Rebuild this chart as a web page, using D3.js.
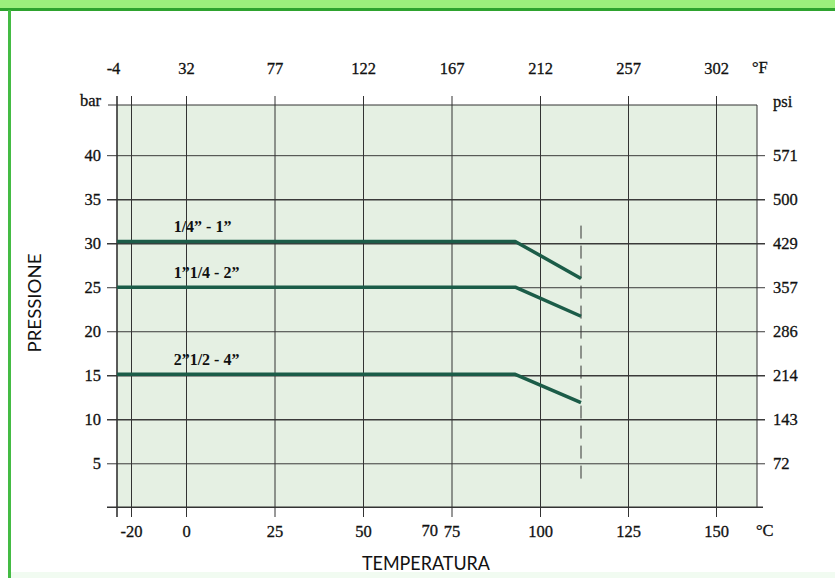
<!DOCTYPE html>
<html>
<head>
<meta charset="utf-8">
<script src="https://cdn.jsdelivr.net/npm/d3@7"></script>
<style>
body{margin:0;background:#fff;}
svg{display:block;}
.tick text, .lbl{font-family:"Liberation Serif",serif;font-size:16.5px;fill:#111;stroke:#111;stroke-width:0.3px;}
</style>
</head>
<body>
<svg id="chart" width="835" height="578"></svg>
<script>
// pressure / temperature data
var barTicks = [5, 10, 15, 20, 25, 30, 35, 40];
var psiLabels = ["72", "143", "214", "286", "357", "429", "500", "571"];
var celsiusTicks = [-20, 0, 25, 50, 75, 100, 125, 150];
var fahrenheitLabels = ["-4", "32", "77", "122", "167", "212", "257", "302"];
var fahrenheitPos = [-25, 0, 25, 50, 75, 100, 125, 150];

var seriesNames = ["1/4\u201d - 1\u201d", "1\u201d1/4 - 2\u201d", "2\u201d1/2 - 4\u201d"];
var seriesTemp = [-25, 93, 110];
var seriesA = [30.2, 30.2, 26.0];
var seriesB = [25.0, 25.0, 21.7];
var seriesC = [15.1, 15.1, 11.9];
var maxTemp = 110;

var svg = d3.select("#chart");

// frame
svg.append("rect").attr("x",0).attr("y",0).attr("width",835).attr("height",8).attr("fill","#9cf07c");
svg.append("line").attr("x1",0).attr("x2",835).attr("y1",9.5).attr("y2",9.5).attr("stroke","#2ea32e").attr("stroke-width",3);
svg.append("line").attr("x1",9.5).attr("x2",9.5).attr("y1",10).attr("y2",578).attr("stroke","#44bb44").attr("stroke-width",3);
svg.append("rect").attr("x",11).attr("y",572).attr("width",824).attr("height",6).attr("fill","#f1fbf1");

// scales (the temperature axis of the original is not uniform)
var x = d3.scaleLinear()
    .domain([-25, -20, 0, 100, 110, 125, 150, 161.5])
    .range([117, 131, 186, 540, 581, 628, 716, 757]);
var y = d3.scaleLinear().domain([0, 45.7]).range([507.3, 105]);

var pLeft = 117, pRight = 757, pTop = 105, pBottom = 507.3;

svg.append("rect").attr("x",pLeft).attr("y",pTop).attr("width",pRight-pLeft).attr("height",pBottom-pTop).attr("fill","#e5f0e3");

// horizontal grid + bar labels
var gy = svg.append("g").attr("transform","translate(107,0)")
    .call(d3.axisLeft(y).tickValues(barTicks).tickSize(-(765-107)).tickPadding(6));
gy.select(".domain").remove();
gy.selectAll(".tick line").attr("stroke","#3a3a3a").attr("stroke-width",function(d){return (d==10||d==35||d==15||d==30)?1.6:1;});

// psi labels
var gp = svg.append("g").attr("transform","translate(765,0)")
    .call(d3.axisRight(y).tickValues(barTicks).tickSize(0).tickPadding(8)
    .tickFormat(function(d,i){return psiLabels[i];}));
gp.select(".domain").remove();

// vertical grid + celsius labels
var gx = svg.append("g").attr("transform","translate(0,517)")
    .call(d3.axisBottom(x).tickValues(celsiusTicks).tickSize(-(517-96)).tickPadding(5)
    .tickFormat(function(d){return String(d);}));
gx.select(".domain").remove();
gx.selectAll(".tick line").attr("stroke","#333").attr("stroke-width",1);
gx.selectAll(".tick text").attr("dy","0.9em");

// extra 70 label
svg.append("text").attr("class","lbl").attr("x",x(70)-4).attr("y",536).attr("text-anchor","middle").text("70");

// fahrenheit labels
var gf = svg.append("g").attr("transform","translate(0,96)")
    .call(d3.axisTop(x).tickValues(fahrenheitPos).tickSize(0).tickPadding(22)
    .tickFormat(function(d,i){return fahrenheitLabels[i];}));
gf.select(".domain").remove();
gf.selectAll(".tick text").filter(function(d){return d==-25;}).attr("dx",-4);

// plot edges and axes
svg.append("line").attr("x1",108).attr("x2",pRight).attr("y1",pTop).attr("y2",pTop).attr("stroke","#333");
svg.append("line").attr("x1",pRight).attr("x2",pRight).attr("y1",pTop).attr("y2",pBottom).attr("stroke","#333");
svg.append("line").attr("x1",pLeft).attr("x2",pLeft).attr("y1",96).attr("y2",517).attr("stroke","#333").attr("stroke-width",1.6);
svg.append("line").attr("x1",107).attr("x2",763).attr("y1",pBottom).attr("y2",pBottom).attr("stroke","#333").attr("stroke-width",1.6);

// max temperature dashed line
svg.append("line").attr("x1",x(maxTemp)).attr("x2",x(maxTemp)).attr("y1",y(32)).attr("y2",y(3.2))
    .attr("stroke","#333").attr("stroke-width",1).attr("stroke-dasharray","13,7");

// unit labels
function label(txt, px, py, anchor){
  svg.append("text").attr("class","lbl").attr("x",px).attr("y",py).attr("text-anchor",anchor||"start").text(txt);
}
label("bar", 101, 106, "end");
label("psi", 773, 107);
label("\u00b0F", 752, 73);
label("\u00b0C", 756, 536);

// series
var line = d3.line().x(function(d){return x(d[0]);}).y(function(d){return y(d[1]);});
[seriesA, seriesB, seriesC].forEach(function(s, i){
  var pts = seriesTemp.map(function(t, j){return [t, s[j]];});
  svg.append("path").attr("d", line(pts)).attr("fill","none")
    .attr("stroke","#1b5c48").attr("stroke-width",3.5).attr("stroke-linejoin","round");
  svg.append("text").attr("x", x(-4.5)).attr("y", y(s[0]) - 9)
    .style("font-family","Liberation Serif").style("font-size","16px").style("font-weight","bold")
    .attr("fill","#111").text(seriesNames[i]);
});

// axis titles
svg.append("text").attr("transform","translate(41,303) rotate(-90)").attr("text-anchor","middle")
  .attr("textLength",99).attr("lengthAdjust","spacingAndGlyphs")
  .style("font-family","Lato").style("font-size","18px").attr("fill","#111").text("PRESSIONE");
svg.append("text").attr("x",426).attr("y",570).attr("text-anchor","middle")
  .attr("textLength",128).attr("lengthAdjust","spacingAndGlyphs")
  .style("font-family","Lato").style("font-size","20px").attr("fill","#111").text("TEMPERATURA");
</script>
</body>
</html>
